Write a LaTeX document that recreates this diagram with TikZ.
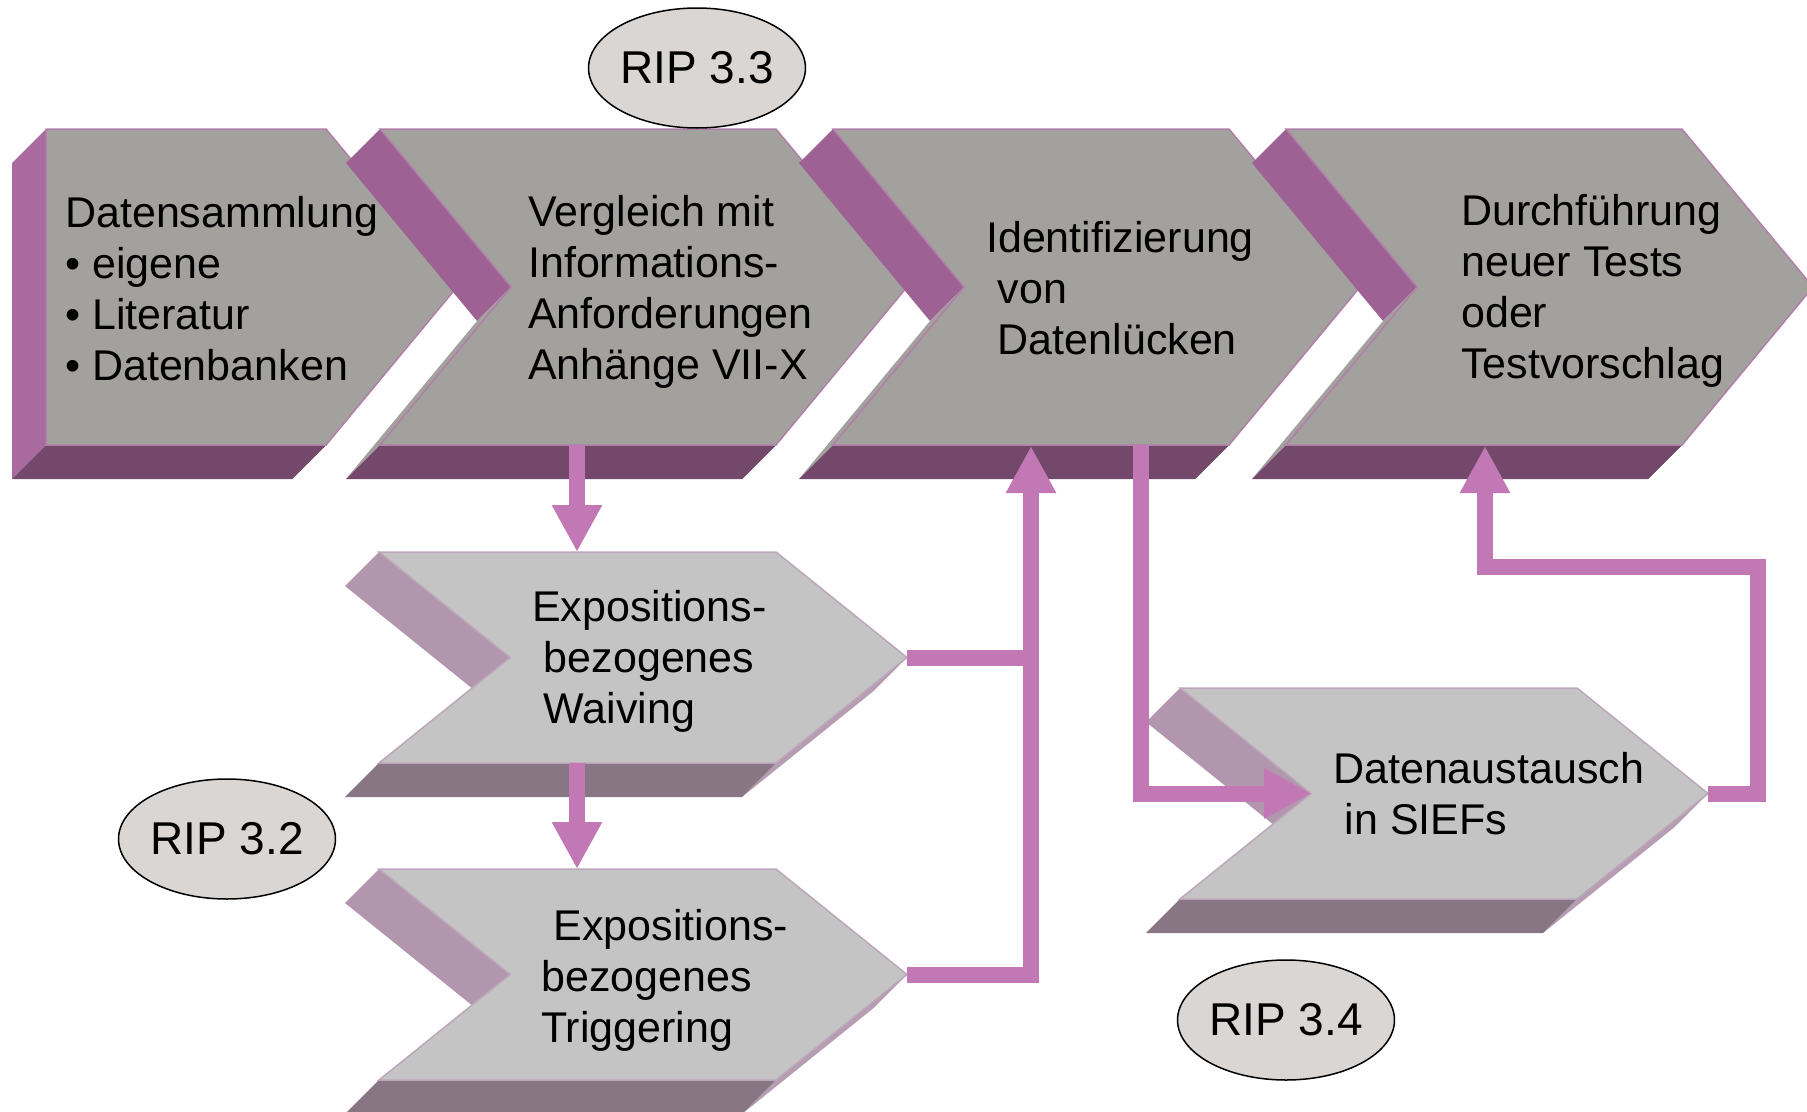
\documentclass[tikz,border=0pt]{standalone}
\usepackage{fontspec}
\setmainfont{Liberation Sans}
\usetikzlibrary{arrows.meta,shapes.geometric}

% palette
\definecolor{topfront}{HTML}{A3A19E}
\definecolor{topband}{HTML}{9D6193}
\definecolor{topside}{HTML}{A96B9F}
\definecolor{topbottom}{HTML}{73486A}
\definecolor{topsliver}{HTML}{73486A}
\definecolor{topedge}{HTML}{B07EA8}
\definecolor{lowfront}{HTML}{C4C4C4}
\definecolor{lowband}{HTML}{B196AE}
\definecolor{lowside}{HTML}{B196AE}
\definecolor{lowbottom}{HTML}{887684}
\definecolor{lowsliver}{HTML}{B79DB4}
\definecolor{lowedge}{HTML}{BCA6B9}
\definecolor{flowcol}{HTML}{C278B5}
\definecolor{ripfill}{HTML}{D9D6D3}

% extruded chevron: #1 name, #2 left x, #3 top y, #4 top width,
% #5 height, #6 point depth, #7 palette (top/low), #8 notched (1/0)
\newcommand\chevshape[8]{%
  \pgfmathsetmacro\cxl{#2}%
  \pgfmathsetmacro\cyt{#3}%
  \pgfmathsetmacro\cxr{#2+#4}%
  \pgfmathsetmacro\cyb{#3+#5}%
  \pgfmathsetmacro\cym{#3+#5/2}%
  \pgfmathsetmacro\cxt{#2+#4+#6}%
  \ifnum#8=1 \pgfmathsetmacro\cxn{#2+#6}\else\pgfmathsetmacro\cxn{#2}\fi
  \coordinate (#1-tl) at (\cxl,\cyt);
  \coordinate (#1-tr) at (\cxr,\cyt);
  \coordinate (#1-tip) at (\cxt,\cym);
  \coordinate (#1-br) at (\cxr,\cyb);
  \coordinate (#1-bl) at (\cxl,\cyb);
  \coordinate (#1-notch) at (\cxn,\cym);
  \coordinate (#1-tlb) at ([shift={(-34,34)}]#1-tl);
  \coordinate (#1-tipb) at ([shift={(-34,34)}]#1-tip);
  \coordinate (#1-brb) at ([shift={(-34,34)}]#1-br);
  \coordinate (#1-blb) at ([shift={(-34,34)}]#1-bl);
  \coordinate (#1-notchb) at ([shift={(-34,34)}]#1-notch);
  \fill[#7sliver] (#1-tip) -- (#1-br) -- (#1-brb) -- (#1-tipb) -- cycle;
  \ifnum#8=1
    \fill[#7band] (#1-tl) -- (#1-notch) -- (#1-notchb) -- (#1-tlb) -- cycle;
    \fill[#7front] (#1-notch) -- (#1-bl) -- (#1-blb) -- (#1-notchb) -- cycle;
  \else
    \fill[#7side] (#1-tl) -- (#1-bl) -- (#1-blb) -- (#1-tlb) -- cycle;
  \fi
  \fill[#7bottom] (#1-bl) -- (#1-br) -- (#1-brb) -- (#1-blb) -- cycle;
  \filldraw[fill=#7front, draw=#7edge, line width=1.5pt, line join=miter]
    (#1-tl) -- (#1-tr) -- (#1-tip) -- (#1-br) -- (#1-bl) -- (#1-notch) -- cycle;
}

\tikzset{
  % multi-line labels are anchored at the baseline of their last line
  label text/.style={font=\fontsize{43}{51}\selectfont, align=left,
    inner sep=0pt, anchor=base west, text=black},
  rip/.style={ellipse, draw=black, line width=1.5pt, fill=ripfill,
    minimum width=213pt, minimum height=120pt, inner sep=0pt,
    font=\fontsize{46}{55}\selectfont},
  flow/.style={draw=flowcol, line width=16pt, line join=miter},
  flowarrow/.style={flow, -{Triangle[width=47pt,length=47pt]}}
}

\begin{document}
\begin{tikzpicture}[x=1pt,y=-1pt]
\useasboundingbox (0,0) rectangle (1807,1111);
\clip (0,0) rectangle (1807,1111);

% main process chain
\chevshape{c1}{46}{129}{280}{316}{131}{top}{0}
\chevshape{c2}{380}{129}{396}{316}{131}{top}{1}
\chevshape{c3}{833}{129}{396}{316}{131}{top}{1}
\chevshape{c4}{1286}{129}{396}{316}{131}{top}{1}

% side steps
\chevshape{wv}{379}{552}{397}{211}{131}{low}{1}
\chevshape{tg}{379}{869}{397}{211}{131}{low}{1}
\chevshape{dx}{1180}{688}{397}{211}{131}{low}{1}

% step texts
\node[label text] (t1) at (65,380) {Datensammlung\\• eigene\\• Literatur\\• Datenbanken};
\node[label text] (t2) at (528,379) {Vergleich mit\\Informations-\\Anforderungen\\Anhänge VII-X};
\node[label text] (t3) at (986,354) {Identifizierung\\\hspace*{11.7pt}von\\\hspace*{11.7pt}Datenlücken};
\node[label text] (t4) at (1461,378) {Durchführung\\neuer Tests\\oder\\Testvorschlag};
\node[label text] (t5) at (532,723) {Expositions-\\\hspace*{11.7pt}bezogenes\\\hspace*{11.7pt}Waiving};
\node[label text] (t6) at (541,1042) {\hspace*{12.5pt}Expositions-\\bezogenes\\Triggering};
\node[label text] (t7) at (1333,834) {Datenaustausch\\\hspace*{11.7pt}in SIEFs};

% connector anchors
\coordinate (c2-out) at (577,445);
\coordinate (wv-in) at (577,552);
\coordinate (wv-out) at (577,763);
\coordinate (tg-in) at (577,869);
\coordinate (c3-in) at (1031,446);
\coordinate (c3-out) at (1141,445);
\coordinate (c4-in) at (1485,446);
\coordinate (loop-r) at (1758,567);

% connectors
\draw[flowarrow] (c2-out) -- (wv-in);
\draw[flowarrow] (wv-out) -- (tg-in);
\draw[flow] (wv-tip) -- (wv-tip -| c3-in);
\draw[flowarrow] (tg-tip) -- (tg-tip -| c3-in) -- (c3-in);
\draw[flowarrow] (c3-out) -- (c3-out |- dx-notch) -- (dx-notch);
\draw[flowarrow] (dx-tip) -- (dx-tip -| loop-r) -- (loop-r) -- (loop-r -| c4-in) -- (c4-in);

% process labels
\node[rip] (rip33) at (697,68) {RIP 3.3};
\node[rip] (rip32) at (227,839) {RIP 3.2};
\node[rip] (rip34) at (1286,1020) {RIP 3.4};
\end{tikzpicture}
\end{document}
